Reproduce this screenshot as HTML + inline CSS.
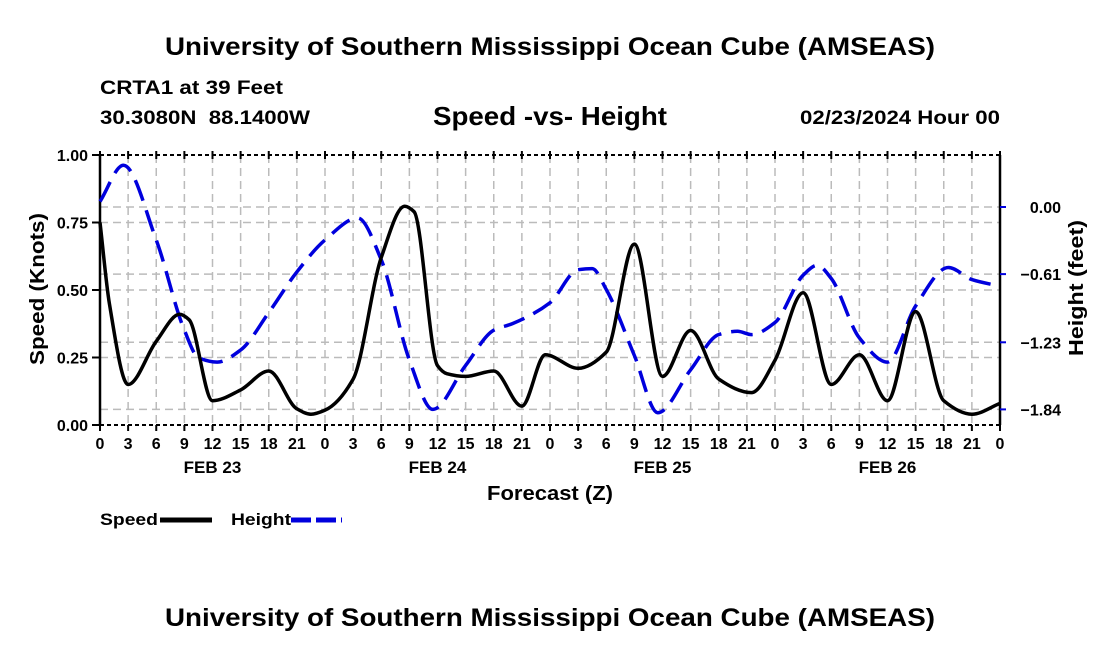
<!DOCTYPE html>
<html><head><meta charset="utf-8"><style>
body{margin:0;background:#fff;width:1100px;height:650px;overflow:hidden;font-family:"Liberation Sans",sans-serif}
</style></head><body>
<svg width="1100" height="650" font-family="Liberation Sans, sans-serif" font-weight="bold">
<text x="550" y="55" font-size="25" text-anchor="middle" textLength="770" lengthAdjust="spacingAndGlyphs">University of Southern Mississippi Ocean Cube (AMSEAS)</text>
<text x="100" y="94" font-size="19" textLength="183" lengthAdjust="spacingAndGlyphs">CRTA1 at 39 Feet</text>
<text x="100" y="124" font-size="19" textLength="210" lengthAdjust="spacingAndGlyphs" xml:space="preserve">30.3080N  88.1400W</text>
<text x="433" y="125" font-size="26" textLength="234" lengthAdjust="spacingAndGlyphs">Speed -vs- Height</text>
<text x="800" y="124" font-size="19" textLength="200" lengthAdjust="spacingAndGlyphs">02/23/2024 Hour 00</text>
<g id="grid"></g>
<g id="axes"></g>
<path id="hline" fill="none" stroke="#0000dd" stroke-width="3.5" stroke-dasharray="22,10"/>
<path id="sline" fill="none" stroke="#000" stroke-width="3.5"/>
<text x="487" y="500" font-size="20" textLength="126" lengthAdjust="spacingAndGlyphs">Forecast (Z)</text>
<text transform="translate(44,289) rotate(-90)" font-size="20" text-anchor="middle" textLength="152" lengthAdjust="spacingAndGlyphs">Speed (Knots)</text>
<text transform="translate(1083,288) rotate(-90)" font-size="20" text-anchor="middle" textLength="136" lengthAdjust="spacingAndGlyphs">Height (feet)</text>
<g><text x="100" y="525" font-size="17" textLength="58" lengthAdjust="spacingAndGlyphs">Speed</text><line x1="160" y1="520" x2="212" y2="520" stroke="#000" stroke-width="5"/></g>
<g><text x="231" y="525" font-size="17" textLength="60" lengthAdjust="spacingAndGlyphs">Height</text><line x1="291" y1="520" x2="342" y2="520" stroke="#0000dd" stroke-width="5" stroke-dasharray="20,5"/></g>
<text x="550" y="626" font-size="25" text-anchor="middle" textLength="770" lengthAdjust="spacingAndGlyphs">University of Southern Mississippi Ocean Cube (AMSEAS)</text>
</svg>
<script>
const speedT=[0,1,3,6,8.5,9.5,12,15,18,21,22.5,24,27,30,32.5,33.5,36,37,39,42,45,47.5,51,54,57,60,63,66,69.5,72,75,78,81,84,87,90,93,96];
const speedV=[0.75,0.45,0.15,0.31,0.41,0.39,0.09,0.13,0.20,0.06,0.04,0.055,0.17,0.62,0.81,0.79,0.22,0.19,0.18,0.20,0.07,0.26,0.21,0.27,0.67,0.18,0.35,0.17,0.12,0.24,0.49,0.15,0.26,0.09,0.42,0.09,0.04,0.08];
const heightT=[0,2.5,6,9,10.5,12.5,15,18,21,24,27.5,30,33,35.5,39,42,44,48,51,52.5,54,57,59.5,63,66,68,69.5,72,75,76.5,78,81,84,87,90.5,93,96];
const heightV=[0.05,0.38,-0.30,-1.12,-1.37,-1.41,-1.30,-0.96,-0.59,-0.30,-0.10,-0.48,-1.39,-1.84,-1.44,-1.12,-1.06,-0.87,-0.57,-0.56,-0.75,-1.35,-1.87,-1.48,-1.16,-1.13,-1.16,-1.05,-0.62,-0.53,-0.65,-1.19,-1.41,-0.90,-0.55,-0.66,-0.72];
const speedTicks=[0,0.25,0.5,0.75,1.0];
const heightTicks=[0,-0.61,-1.23,-1.84];
const heightTickLabels=["0.00","−0.61","−1.23","−1.84"];
const hourLabels=["0","3","6","9","12","15","18","21"];
const dayLabels=["FEB 23","FEB 24","FEB 25","FEB 26"];
const NS="http://www.w3.org/2000/svg";
const X0=100,X1=1000,Y0=425,Y1=155;
const xs=t=>X0+t*(X1-X0)/96;
const ys=v=>Y0-v*(Y0-Y1);
const yh=h=>207-h*110;
function mk(tag,attrs,parent){const e=document.createElementNS(NS,tag);for(const k in attrs)e.setAttribute(k,attrs[k]);parent.appendChild(e);return e;}
const grid=document.getElementById('grid'),axes=document.getElementById('axes');
const gs={stroke:'#bbb','stroke-width':1.5,'stroke-dasharray':'8,5'};
for(let i=1;i<32;i++){const l=mk('line',Object.assign({x1:xs(i*3),x2:xs(i*3),y1:Y1,y2:Y0},gs),grid);}
speedTicks.slice(1,4).forEach(v=>{const l=mk('line',Object.assign({x1:X0,x2:X1,y1:ys(v),y2:ys(v)},gs),grid);});
heightTicks.forEach(h=>{const l=mk('line',Object.assign({x1:X0,x2:X1,y1:yh(h),y2:yh(h)},gs),grid);});
mk('line',{x1:X0,x2:X0,y1:Y1,y2:Y0,stroke:'#000','stroke-width':2.5},axes);
mk('line',{x1:X1,x2:X1,y1:Y1,y2:Y0,stroke:'#000','stroke-width':2.5},axes);
mk('line',{x1:X0,x2:X1,y1:Y1,y2:Y1,stroke:'#000','stroke-width':2,'stroke-dasharray':'4,3'},axes);
mk('line',{x1:X0,x2:X1,y1:Y0,y2:Y0,stroke:'#000','stroke-width':2,'stroke-dasharray':'4,3'},axes);
speedTicks.forEach(v=>{mk('line',{x1:X0-8,x2:X0,y1:ys(v),y2:ys(v),stroke:'#000','stroke-width':2},axes);
 const t=mk('text',{x:X0-12,y:ys(v)+6,'font-size':16,'text-anchor':'end'},axes);t.textContent=v.toFixed(2);
 });
heightTicks.forEach((h,i)=>{mk('line',{x1:X1,x2:X1+6,y1:yh(h),y2:yh(h),stroke:'#0000dd','stroke-width':2},axes);
 const t=mk('text',{x:1061,y:yh(h)+6,'font-size':16,'text-anchor':'end'},axes);t.textContent=heightTickLabels[i];
 });
for(let i=0;i<=32;i++){const x=xs(i*3);
 mk('line',{x1:x,x2:x,y1:Y0,y2:Y0+6,stroke:'#000','stroke-width':2},axes);
 mk('line',{x1:x,x2:x,y1:Y1-4,y2:Y1+4,stroke:'#000','stroke-width':2},axes);
 const t=mk('text',{x:x,y:Y0+24,'font-size':16,'text-anchor':'middle'},axes);t.textContent=hourLabels[i%8];
 }
dayLabels.forEach((d,i)=>{const t=mk('text',{x:xs(i*24+12),y:Y0+48,'font-size':17,'text-anchor':'middle'},axes);t.textContent=d;
 });
function monotone(P){const n=P.length,dx=[],m=[],t=[];
 for(let i=0;i<n-1;i++){dx[i]=P[i+1][0]-P[i][0];m[i]=(P[i+1][1]-P[i][1])/dx[i];}
 t[0]=m[0];t[n-1]=m[n-2];
 for(let i=1;i<n-1;i++){if(m[i-1]*m[i]<=0)t[i]=0;else{const w1=2*dx[i]+dx[i-1],w2=dx[i]+2*dx[i-1];t[i]=(w1+w2)/(w1/m[i-1]+w2/m[i]);}}
 let d='M'+P[0][0]+','+P[0][1];
 for(let i=0;i<n-1;i++){const h=dx[i]/3;
  d+=' C'+(P[i][0]+h)+','+(P[i][1]+t[i]*h)+' '+(P[i+1][0]-h)+','+(P[i+1][1]-t[i+1]*h)+' '+P[i+1][0]+','+P[i+1][1];}
 return d;}
document.getElementById('sline').setAttribute('d',monotone(speedT.map((t,i)=>[xs(t),ys(speedV[i])])));
document.getElementById('hline').setAttribute('d',monotone(heightT.map((t,i)=>[xs(t),yh(heightV[i])])));
</script>
</body></html>
